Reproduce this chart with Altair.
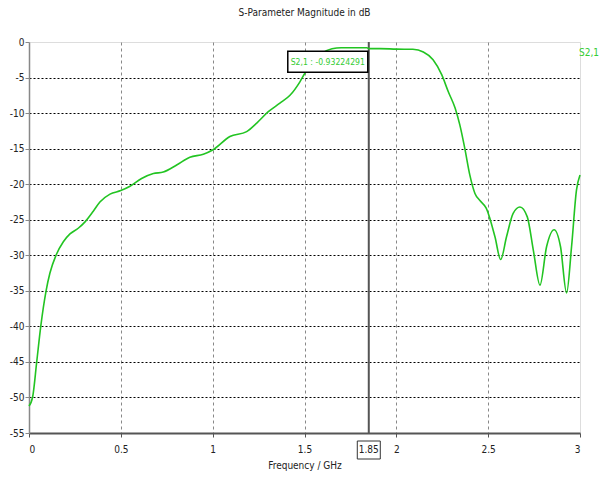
import altair as alt
import pandas as pd

# ---- data ----
freq = [0.0, 0.02, 0.042, 0.064, 0.093, 0.114, 0.147, 0.187, 0.223, 0.268, 0.305,
        0.35, 0.386, 0.441, 0.5, 0.55, 0.613, 0.677, 0.731, 0.804, 0.876, 0.949,
        1.0, 1.094, 1.185, 1.24, 1.303, 1.366, 1.421, 1.475, 1.502, 1.55, 1.6,
        1.65, 1.7, 1.75, 1.84, 1.85, 1.911, 2.0, 2.09, 2.147, 2.2, 2.247, 2.283,
        2.32, 2.346, 2.373, 2.4, 2.428, 2.455, 2.49, 2.537, 2.568, 2.6, 2.636,
        2.673, 2.713, 2.746, 2.782, 2.818, 2.859, 2.894, 2.927, 2.954, 2.981, 3.0]
s21_db = [-51.2, -49.9, -45.0, -40.0, -35.0, -32.5, -30.0, -28.1, -27.0, -26.2, -25.3,
          -23.8, -22.5, -21.4, -20.9, -20.3, -19.2, -18.5, -18.3, -17.3, -16.2, -15.8,
          -15.2, -13.3, -12.6, -11.4, -9.8, -8.6, -7.5, -5.6, -4.4, -2.8, -1.5,
          -0.95, -0.8, -0.8, -0.8, -0.93, -0.93, -1.0, -1.03, -1.4, -2.5, -4.6, -7.0,
          -9.3, -11.7, -15.0, -18.7, -21.3, -22.3, -23.4, -27.4, -30.6, -27.4, -24.1,
          -23.2, -24.6, -29.3, -34.2, -28.8, -26.4, -28.8, -35.3, -28.8, -20.8, -18.7]
series_name = ["S2,1"]
marker_freq = [1.85]
marker_val = [-0.93224291]
marker_freq_text = ["1.85"]
x_ticks = [0, 0.5, 1, 1.5, 2, 2.5, 3]
y_ticks = [0, -5, -10, -15, -20, -25, -30, -35, -40, -45, -50, -55]

W, H = 551, 391
FONT = "DejaVu Sans Condensed, Liberation Sans Narrow, sans-serif"
FS = 10
GREEN = "#22c422"

df = pd.DataFrame({"f": freq, "db": s21_db, "series": series_name[0]})
mk = pd.DataFrame({
    "f": marker_freq,
    "db": marker_val,
    "label": [f"{series_name[0]} : {v}" for v in marker_val],
    "ftext": marker_freq_text,
})

xscale = alt.Scale(domain=[0, 3], nice=False, zero=False)
yscale = alt.Scale(domain=[-55, 0], nice=False, zero=False)

x_axis = alt.Axis(
    values=x_ticks, title="Frequency / GHz", labelExpr="'' + datum.value",
    labelOverlap=False, tickCount=7,
    grid=True, gridColor="#888888", gridDash=[3, 3], gridWidth=1,
    gridOpacity={"condition": {"test": "datum.value == 0 || datum.value == 3", "value": 0}, "value": 1},
    domainColor="#555555", domainWidth=2, tickColor="#555555", tickSize=4,
    labelPadding=7, titlePadding=6, labelFont=FONT, titleFont=FONT,
    labelFontSize=FS, titleFontSize=FS, titleFontWeight="normal",
    labelColor="#222222", titleColor="#222222")
y_axis = alt.Axis(
    values=y_ticks, title=None, labelExpr="'' + datum.value",
    labelOverlap=False, tickCount=12,
    grid=True, gridColor="#000000", gridDash=[2, 2], gridWidth=1,
    gridOpacity={"condition": {"test": "datum.value == 0 || datum.value == -55", "value": 0}, "value": 1},
    domainColor="#888888", domainWidth=1.5, tickColor="#888888", tickSize=4,
    labelPadding=1, labelFont=FONT, labelFontSize=FS, labelColor="#222222")

X = alt.X("f:Q", scale=xscale, axis=x_axis)
Y = alt.Y("db:Q", scale=yscale, axis=y_axis)

line = alt.Chart(df).mark_line(strokeWidth=1.6, interpolate="monotone").encode(
    x=X, y=Y,
    color=alt.Color("series:N", scale=alt.Scale(range=[GREEN]), legend=alt.Legend(
        title=None, orient="none", legendX=540, legendY=6, symbolType="stroke",
        symbolSize=0, symbolStrokeWidth=0, labelOffset=0, padding=0, labelFont=FONT,
        labelFontSize=FS, labelColor="#33cc33")),
)

rule = alt.Chart(mk).mark_rule(color="#555555", strokeWidth=2).encode(x=X)

box = alt.Chart(mk).mark_rect(width=80, height=21, fill="white", stroke="black",
                              strokeWidth=1.5, xOffset=-41, yOffset=13).encode(x=X, y=Y)

label = alt.Chart(mk).mark_text(font=FONT, fontSize=8.6, color="#33cc33",
                                align="center", baseline="middle", dx=-41, dy=13).encode(
    x=X, y=Y, text="label:N")

fbox = alt.Chart(mk).mark_rect(width=23, fill="white", stroke="#333333", strokeWidth=1).encode(
    x=X, y=alt.value(H + 8), y2=alt.value(H + 26))

ftext = alt.Chart(mk).mark_text(font=FONT, fontSize=FS, color="#222222",
                                align="center", baseline="middle").encode(
    x=X, y=alt.value(H + 17), text="ftext:N")

chart = alt.layer(rule, line, box, label, fbox, ftext).properties(
    width=W, height=H,
    title=alt.TitleParams("S-Parameter Magnitude in dB", font=FONT, fontSize=FS,
                          fontWeight="normal", color="#222222", offset=19, anchor="middle"),
    autosize=alt.AutoSizeParams(type="none"),
    padding={"left": 21, "top": 34, "right": 20, "bottom": 38},
).configure_view(stroke="#a0a0a0", strokeWidth=2).configure(background="white")

chart.save("out.html", embed_options={"renderer": "svg", "actions": False})
